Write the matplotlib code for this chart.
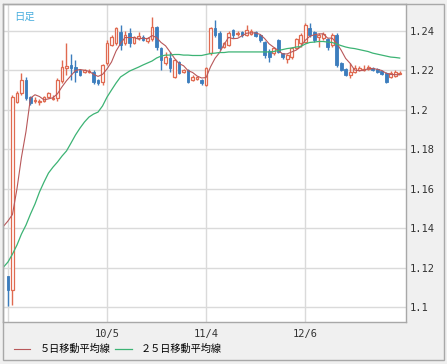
import numpy as np
import matplotlib
matplotlib.use("Agg")
from matplotlib import pyplot as plt
from matplotlib.patches import Rectangle

# daily candles (index 0..87)
opens = [1.1157, 1.1086, 1.2040, 1.2086, 1.2152, 1.2065, 1.2045, 1.2040, 1.2045, 1.2065,
         1.2055, 1.2060, 1.2145, 1.2215, 1.2228, 1.2217, 1.2202, 1.2192, 1.2190, 1.2192,
         1.2152, 1.2141, 1.2238, 1.2329, 1.2339, 1.2395, 1.2339, 1.2390, 1.2339, 1.2365,
         1.2370, 1.2349, 1.2359, 1.2420, 1.2314, 1.2238, 1.2263, 1.2167, 1.2243, 1.2192,
         1.2202, 1.2152, 1.2157, 1.2152, 1.2126, 1.2288, 1.2415, 1.2390, 1.2319, 1.2329,
         1.2405, 1.2385, 1.2395, 1.2380, 1.2385, 1.2395, 1.2380, 1.2344, 1.2300, 1.2288,
         1.2354, 1.2288, 1.2258, 1.2268, 1.2314, 1.2339, 1.2344, 1.2415, 1.2395, 1.2370,
         1.2365, 1.2359, 1.2329, 1.2380, 1.2238, 1.2207, 1.2177, 1.2192, 1.2202, 1.2200,
         1.2205, 1.2212, 1.2207, 1.2197, 1.2187, 1.2167, 1.2172, 1.2182]
highs = [1.1160, 1.2075, 1.2095, 1.2187, 1.2165, 1.2070, 1.2065, 1.2055, 1.2070, 1.2090,
         1.2075, 1.2160, 1.2255, 1.2339, 1.2285, 1.2253, 1.2210, 1.2210, 1.2205, 1.2200,
         1.2158, 1.2235, 1.2354, 1.2380, 1.2420, 1.2430, 1.2400, 1.2415, 1.2375, 1.2395,
         1.2378, 1.2372, 1.2471, 1.2425, 1.2320, 1.2294, 1.2294, 1.2260, 1.2250, 1.2210,
         1.2210, 1.2175, 1.2172, 1.2158, 1.2220, 1.2420, 1.2456, 1.2398, 1.2345, 1.2398,
         1.2410, 1.2398, 1.2400, 1.2430, 1.2410, 1.2400, 1.2385, 1.2350, 1.2310, 1.2320,
         1.2360, 1.2290, 1.2285, 1.2320, 1.2365, 1.2390, 1.2441, 1.2441, 1.2400, 1.2390,
         1.2395, 1.2365, 1.2390, 1.2390, 1.2245, 1.2212, 1.2238, 1.2230, 1.2225, 1.2228,
         1.2230, 1.2217, 1.2212, 1.2202, 1.2192, 1.2197, 1.2202, 1.2195]
lows = [1.1005, 1.1010, 1.2035, 1.2075, 1.2050, 1.2025, 1.2035, 1.2025, 1.2040, 1.2060,
        1.2050, 1.2045, 1.2135, 1.2177, 1.2150, 1.2141, 1.2170, 1.2185, 1.2185, 1.2130,
        1.2125, 1.2126, 1.2230, 1.2325, 1.2330, 1.2304, 1.2330, 1.2319, 1.2335, 1.2355,
        1.2348, 1.2340, 1.2350, 1.2304, 1.2202, 1.2230, 1.2192, 1.2162, 1.2180, 1.2185,
        1.2135, 1.2145, 1.2150, 1.2128, 1.2120, 1.2280, 1.2370, 1.2305, 1.2314, 1.2322,
        1.2365, 1.2375, 1.2370, 1.2375, 1.2380, 1.2370, 1.2345, 1.2265, 1.2245, 1.2280,
        1.2288, 1.2260, 1.2238, 1.2260, 1.2310, 1.2319, 1.2340, 1.2370, 1.2345, 1.2319,
        1.2355, 1.2304, 1.2320, 1.2220, 1.2195, 1.2170, 1.2162, 1.2185, 1.2195, 1.2195,
        1.2200, 1.2195, 1.2185, 1.2175, 1.2136, 1.2160, 1.2165, 1.2180]
closes = [1.1086, 1.2065, 1.2086, 1.2152, 1.2060, 1.2035, 1.2050, 1.2045, 1.2065, 1.2086,
          1.2062, 1.2152, 1.2220, 1.2222, 1.2212, 1.2192, 1.2177, 1.2202, 1.2195, 1.2141,
          1.2136, 1.2228, 1.2339, 1.2370, 1.2415, 1.2329, 1.2380, 1.2339, 1.2370, 1.2375,
          1.2354, 1.2365, 1.2420, 1.2319, 1.2253, 1.2268, 1.2212, 1.2253, 1.2187, 1.2202,
          1.2141, 1.2167, 1.2165, 1.2136, 1.2212, 1.2415, 1.2380, 1.2314, 1.2339, 1.2390,
          1.2380, 1.2390, 1.2380, 1.2405, 1.2400, 1.2375, 1.2354, 1.2278, 1.2268, 1.2314,
          1.2294, 1.2268, 1.2278, 1.2314, 1.2359, 1.2380, 1.2430, 1.2380, 1.2354, 1.2380,
          1.2385, 1.2319, 1.2380, 1.2228, 1.2202, 1.2177, 1.2192, 1.2212, 1.2212, 1.2210,
          1.2217, 1.2200, 1.2192, 1.2182, 1.2141, 1.2187, 1.2192, 1.2188]

# moving averages, index -1..87 (the first value belongs to the day before the window)
ma5 = [1.1410, 1.1437, 1.1470, 1.1600, 1.1760, 1.1890, 1.2060, 1.2077, 1.2068, 1.2051,
       1.2056, 1.2062, 1.2082, 1.2117, 1.2148, 1.2174, 1.2200, 1.2205, 1.2201, 1.2196,
       1.2181, 1.2170, 1.2180, 1.2208, 1.2243, 1.2298, 1.2336, 1.2367, 1.2367, 1.2367,
       1.2359, 1.2364, 1.2361, 1.2377, 1.2367, 1.2342, 1.2325, 1.2294, 1.2261, 1.2235,
       1.2224, 1.2199, 1.2190, 1.2172, 1.2162, 1.2164, 1.2219, 1.2262, 1.2291, 1.2332,
       1.2368, 1.2361, 1.2363, 1.2376, 1.2389, 1.2391, 1.2390, 1.2383, 1.2362, 1.2335,
       1.2318, 1.2302, 1.2284, 1.2284, 1.2294, 1.2303, 1.2320, 1.2352, 1.2373, 1.2381,
       1.2385, 1.2386, 1.2364, 1.2364, 1.2338, 1.2303, 1.2261, 1.2236, 1.2202, 1.2199,
       1.2201, 1.2209, 1.2210, 1.2206, 1.2200, 1.2186, 1.2180, 1.2179, 1.2178]
ma25 = [1.1203, 1.1229, 1.1269, 1.1315, 1.1371, 1.1416, 1.1472, 1.1523, 1.1584, 1.1634,
        1.1680, 1.1710, 1.1736, 1.1766, 1.1792, 1.1832, 1.1873, 1.1908, 1.1939, 1.1964,
        1.1979, 1.1989, 1.2020, 1.2065, 1.2101, 1.2136, 1.2167, 1.2182, 1.2197, 1.2207,
        1.2217, 1.2228, 1.2238, 1.2248, 1.2263, 1.2273, 1.2278, 1.2278, 1.2281, 1.2281,
        1.2278, 1.2278, 1.2276, 1.2276, 1.2276, 1.2281, 1.2286, 1.2288, 1.2291, 1.2291,
        1.2294, 1.2294, 1.2294, 1.2294, 1.2294, 1.2294, 1.2294, 1.2294, 1.2294, 1.2294,
        1.2296, 1.2301, 1.2306, 1.2311, 1.2314, 1.2319, 1.2321, 1.2334, 1.2342, 1.2344,
        1.2347, 1.2347, 1.2344, 1.2342, 1.2334, 1.2326, 1.2319, 1.2314, 1.2311, 1.2306,
        1.2301, 1.2296, 1.2288, 1.2283, 1.2278, 1.2273, 1.2268, 1.2266, 1.2263]

date_ticks = [0, 22, 44, 66]
date_labels = ["", "10/5", "11/4", "12/6"]
price_ticks = [1.1, 1.12, 1.14, 1.16, 1.18, 1.2, 1.22, 1.24]
legend_labels = ["５日移動平均線", "２５日移動平均線"]

UP = "#e06a50"
DOWN = "#3c7dbd"
W, H = 447, 364

fig = plt.figure(figsize=(W / 100, H / 100), dpi=100)
fig.patch.set_facecolor("#f0f0f0")
ax = fig.add_axes([3 / W, 1 - 322 / H, 403 / W, 318 / H])
ax.set_facecolor("white")

o = np.array(opens)
h = np.array(highs)
l = np.array(lows)
c = np.array(closes)
idx = np.arange(len(c))
up = c >= o

ax.vlines(idx[up], l[up], h[up], color=UP, lw=1, zorder=2)
ax.vlines(idx[~up], l[~up], h[~up], color=DOWN, lw=1, zorder=2)
body = np.maximum(np.abs(c - o), 0.0002)
ax.bar(idx[up], body[up], bottom=np.minimum(o, c)[up], width=0.62,
       facecolor="white", edgecolor=UP, lw=0.9, zorder=3)
ax.bar(idx[~up], body[~up], bottom=np.minimum(o, c)[~up], width=0.62,
       facecolor=DOWN, edgecolor=DOWN, lw=0.6, zorder=3)

ma_x = np.arange(-1, len(c))
l5, = ax.plot(ma_x, ma5, color="#b8585a", lw=0.8, zorder=4)
l25, = ax.plot(ma_x, ma25, color="#3cb374", lw=0.9, zorder=4)

ax.set_xlim(-1.1, 88.4)
ax.set_ylim(1.0925, 1.2537)
ax.set_xticks(date_ticks)
ax.set_xticklabels(date_labels, family="DejaVu Sans Mono", fontsize=7.5, color="#333333")
ax.set_yticks(price_ticks)
ax.set_yticklabels(["%g" % t for t in price_ticks], family="DejaVu Sans Mono",
                   fontsize=7.5, color="#333333")
ax.yaxis.tick_right()
ax.tick_params(length=0)
ax.tick_params(axis="x", pad=5)
ax.tick_params(axis="y", pad=3)
ax.grid(color="#dadada", lw=1, zorder=0)
ax.set_axisbelow(True)
for s in ax.spines.values():
    s.set_color("#a8a8a8")
    s.set_linewidth(1)

ax.text(0.028, 0.975, "日足", transform=ax.transAxes, ha="left", va="top",
        family=["Noto Sans CJK JP", "DejaVu Sans"], fontsize=7.5, color="#4aaede")

fig.legend([l5, l25], legend_labels, loc="center left",
           bbox_to_anchor=(14 / W, 1 - 349 / H), ncol=2, frameon=False,
           handlelength=1.6, handletextpad=0.9, columnspacing=0.5,
           borderpad=0, borderaxespad=0,
           prop={"family": ["Noto Sans CJK JP", "DejaVu Sans"], "size": 7.3})

fig.add_artist(Rectangle((3 / W, 1 - 360 / H), 441 / W, 356 / H,
                         transform=fig.transFigure, fill=False,
                         edgecolor="#a8a8a8", lw=1))

fig.savefig("out.png", dpi=100, facecolor=fig.get_facecolor())
